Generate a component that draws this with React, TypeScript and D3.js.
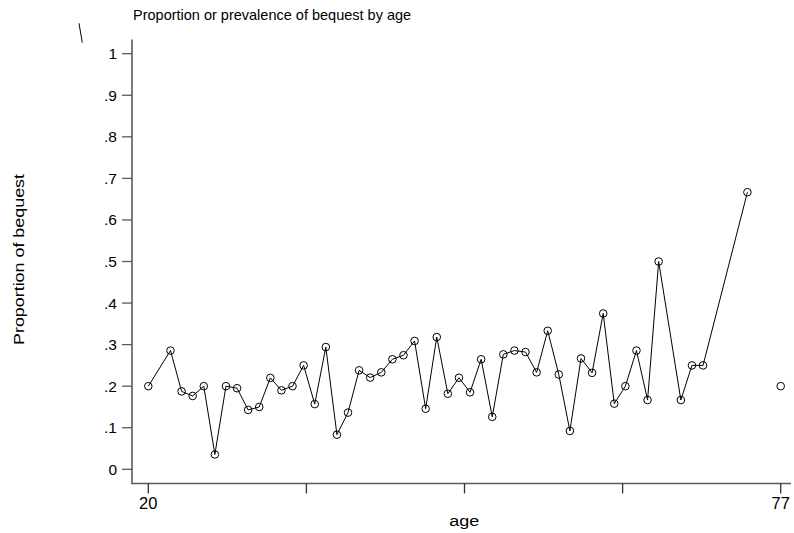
import React from "react";
import * as d3 from "d3";

const ages: number[] = [20,22,23,24,25,26,27,28,29,30,31,32,33,34,35,36,37,38,39,40,41,42,43,44,45,46,47,48,49,50,51,52,53,54,55,56,57,58,59,60,61,62,63,64,65,66,68,69,70,74,75,77];
const props: (number | null)[] = [0.2,0.2857,0.1875,0.1765,0.2,0.0357,0.2,0.1951,0.1429,0.15,0.22,0.19,0.2,0.25,0.1569,0.2941,0.0833,0.1364,0.2381,0.2206,0.2333,0.2647,0.2745,0.3088,0.1458,0.3182,0.1818,0.2203,0.1852,0.2647,0.1262,0.2766,0.2857,0.2821,0.2333,0.3333,0.2281,0.0923,0.2667,0.2321,0.375,0.1579,0.2,0.2857,0.1667,0.5,0.1667,0.25,0.25,0.6667,null,0.2];
const yTicks: number[] = [0,0.1,0.2,0.3,0.4,0.5,0.6,0.7,0.8,0.9,1];
const yTickLabels: string[] = ["0",".1",".2",".3",".4",".5",".6",".7",".8",".9","1"];
const xTicks: number[] = [20,34.25,48.5,62.75,77];
const xTickLabels: string[] = ["20","","","","77"];
const title = "Proportion or prevalence of bequest by age";
const yTitle = "Proportion of bequest";
const xTitle = "age";

const FONT = "'Liberation Sans', Arial, Helvetica, sans-serif";

export default function App() {
  const x = d3.scaleLinear().domain([20, 77]).range([148.3, 780.7]);
  const y = d3.scaleLinear().domain([0, 1]).range([469.3, 53.7]);
  const data = ages.map((a, i) => ({ a, v: props[i] }));
  const line = d3
    .line<{ a: number; v: number | null }>()
    .defined((d) => d.v !== null)
    .x((d) => x(d.a))
    .y((d) => y(d.v as number));
  const axisX = 132;
  const axisY = 483.5;
  const axisColor = "#5a5a5a";
  return (
    <svg
      width={794}
      height={533}
      style={{ position: "absolute", left: 0, top: 0, background: "#fff" }}
      fontFamily={FONT}
    >
      <rect x={0} y={0} width={794} height={533} fill="#fff" />
      <text x={133} y={20} fontSize={14.5} fill="#000">{title}</text>
      <line x1={79} y1={23.3} x2={82.3} y2={42.7} stroke="#000" strokeWidth={1} />
      {/* y axis */}
      <line x1={axisX} y1={39.5} x2={axisX} y2={axisY} stroke={axisColor} strokeWidth={1.6} />
      {yTicks.map((t, i) => (
        <g key={"yt" + i}>
          <line x1={axisX - 10} x2={axisX} y1={y(t)} y2={y(t)} stroke={axisColor} strokeWidth={1.3} />
          <text x={117} y={y(t) + 5.5} fontSize={15.5} textAnchor="end" fill="#000">
            {yTickLabels[i]}
          </text>
        </g>
      ))}
      <text
        transform={`translate(24,259.5) rotate(-90)`}
        fontSize={14.5}
        textAnchor="middle"
        textLength={171}
        lengthAdjust="spacingAndGlyphs"
        fill="#000"
      >
        {yTitle}
      </text>
      {/* x axis */}
      <line x1={axisX - 0.8} y1={axisY} x2={791} y2={axisY} stroke={axisColor} strokeWidth={1.6} />
      {xTicks.map((t, i) => (
        <g key={"xt" + i}>
          <line x1={x(t)} x2={x(t)} y1={axisY} y2={axisY + 10} stroke="#333" strokeWidth={1.3} />
          {xTickLabels[i] && (
            <text x={x(t)} y={509.3} fontSize={16.5} textAnchor="middle" fill="#000">
              {xTickLabels[i]}
            </text>
          )}
        </g>
      ))}
      <text
        x={464.3}
        y={526}
        fontSize={15.5}
        textAnchor="middle"
        textLength={30}
        lengthAdjust="spacingAndGlyphs"
        fill="#000"
      >
        {xTitle}
      </text>
      {/* series */}
      <path d={line(data) || ""} fill="none" stroke="#000" strokeWidth={1} />
      {data
        .filter((d) => d.v !== null)
        .map((d, i) => (
          <circle key={"c" + i} cx={x(d.a)} cy={y(d.v as number)} r={3.8} fill="none" stroke="#000" strokeWidth={1} />
        ))}
    </svg>
  );
}
